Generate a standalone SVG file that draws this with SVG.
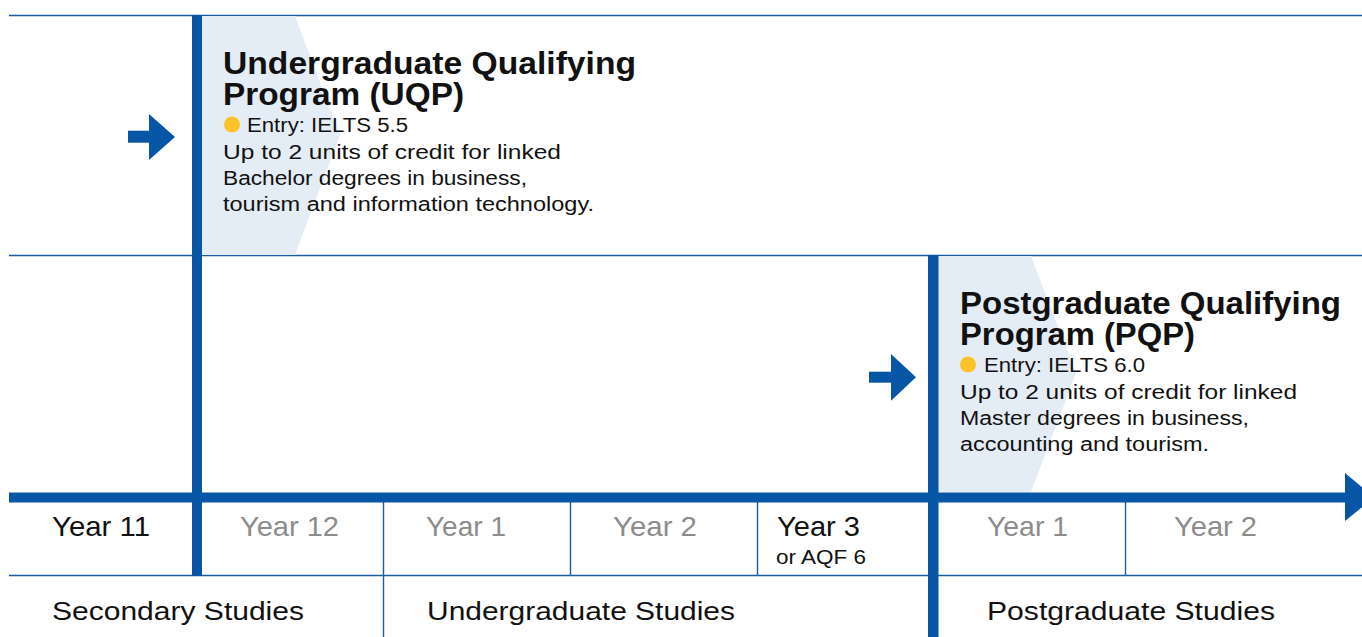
<svg xmlns="http://www.w3.org/2000/svg" width="1362" height="637" viewBox="0 0 1362 637">
<style>
.bg{fill:#ffffff}
.thin{stroke:#1b5ca8;stroke-width:1.4;fill:none}
.thick{fill:#0656a5}
.band{fill:#e4edf6}
.dot{fill:#fdc12b}
.t{font-family:"Liberation Sans",Arial,Helvetica,sans-serif;fill:#111111}
.title{font-size:32px;font-weight:bold}
.body{font-size:20px}
.yr{font-size:28px}
.grey{fill:#8c8c8c}
.st{font-size:26px}
.sm{font-size:19.5px}
</style>
<rect class="bg" x="0" y="0" width="1362" height="637"/>

<g id="grid">
  <line class="thin" x1="9" y1="15.5" x2="1362" y2="15.5"/>
  <line class="thin" x1="9" y1="255.5" x2="1362" y2="255.5"/>
  <line class="thin" x1="9" y1="575.5" x2="1362" y2="575.5"/>
  <line class="thin" x1="383.5" y1="502" x2="383.5" y2="637"/>
  <line class="thin" x1="570.5" y1="502" x2="570.5" y2="576"/>
  <line class="thin" x1="757.5" y1="502" x2="757.5" y2="576"/>
  <line class="thin" x1="1125.5" y1="502" x2="1125.5" y2="576"/>
</g>

<g id="uqp">
  <polygon class="band" points="202,16 295,16 340,135 295,255 202,255"/>
  <text class="t title" x="223" y="74" textLength="413" lengthAdjust="spacingAndGlyphs">Undergraduate Qualifying</text>
  <text class="t title" x="223" y="105" textLength="241" lengthAdjust="spacingAndGlyphs">Program (UQP)</text>
  <circle class="dot" cx="232" cy="124.5" r="8"/>
  <text class="t body" x="247" y="132" textLength="161" lengthAdjust="spacingAndGlyphs">Entry: IELTS 5.5</text>
  <text class="t body" x="223" y="158.5" textLength="338" lengthAdjust="spacingAndGlyphs">Up to 2 units of credit for linked</text>
  <text class="t body" x="223" y="184.5" textLength="304" lengthAdjust="spacingAndGlyphs">Bachelor degrees in business,</text>
  <text class="t body" x="223" y="210.5" textLength="371" lengthAdjust="spacingAndGlyphs">tourism and information technology.</text>
</g>

<g id="pqp">
  <polygon class="band" points="938,256 1031,256 1076,373.5 1031,492 938,492"/>
  <text class="t title" x="960" y="314" textLength="381" lengthAdjust="spacingAndGlyphs">Postgraduate Qualifying</text>
  <text class="t title" x="960" y="345" textLength="235" lengthAdjust="spacingAndGlyphs">Program (PQP)</text>
  <circle class="dot" cx="968" cy="364.5" r="8"/>
  <text class="t body" x="984" y="372" textLength="161" lengthAdjust="spacingAndGlyphs">Entry: IELTS 6.0</text>
  <text class="t body" x="960" y="398.5" textLength="337" lengthAdjust="spacingAndGlyphs">Up to 2 units of credit for linked</text>
  <text class="t body" x="960" y="424.5" textLength="289" lengthAdjust="spacingAndGlyphs">Master degrees in business,</text>
  <text class="t body" x="960" y="450.5" textLength="249" lengthAdjust="spacingAndGlyphs">accounting and tourism.</text>
</g>

<g id="connectors">
  <rect class="thick" x="192" y="15" width="10" height="561"/>
  <rect class="thick" x="928" y="255" width="10.5" height="382"/>
  <rect class="thick" x="9" y="492.5" width="1340" height="10"/>
  <polygon class="thick" points="1345,473 1374,497.5 1345,521"/>
  <g id="arrow-uqp">
    <rect class="thick" x="128" y="130.7" width="22" height="12"/>
    <polygon class="thick" points="149,114 175,137 149,160"/>
  </g>
  <g id="arrow-pqp">
    <rect class="thick" x="869" y="371.7" width="23" height="11"/>
    <polygon class="thick" points="891,354 916,377.3 891,400.7"/>
  </g>
</g>

<g id="years">
  <text class="t yr" x="52" y="536" textLength="98" lengthAdjust="spacingAndGlyphs">Year 11</text>
  <text class="t yr grey" x="240" y="536" textLength="99" lengthAdjust="spacingAndGlyphs">Year 12</text>
  <text class="t yr grey" x="426" y="536" textLength="80" lengthAdjust="spacingAndGlyphs">Year 1</text>
  <text class="t yr grey" x="613" y="536" textLength="84" lengthAdjust="spacingAndGlyphs">Year 2</text>
  <text class="t yr" x="777" y="536" textLength="83" lengthAdjust="spacingAndGlyphs">Year 3</text>
  <text class="t sm" x="776" y="564" textLength="90" lengthAdjust="spacingAndGlyphs">or AQF 6</text>
  <text class="t yr grey" x="987" y="536" textLength="81" lengthAdjust="spacingAndGlyphs">Year 1</text>
  <text class="t yr grey" x="1174" y="536" textLength="83" lengthAdjust="spacingAndGlyphs">Year 2</text>
</g>

<g id="studies">
  <text class="t st" x="52" y="620" textLength="252" lengthAdjust="spacingAndGlyphs">Secondary Studies</text>
  <text class="t st" x="427" y="620" textLength="308" lengthAdjust="spacingAndGlyphs">Undergraduate Studies</text>
  <text class="t st" x="987" y="620" textLength="288" lengthAdjust="spacingAndGlyphs">Postgraduate Studies</text>
</g>
</svg>
